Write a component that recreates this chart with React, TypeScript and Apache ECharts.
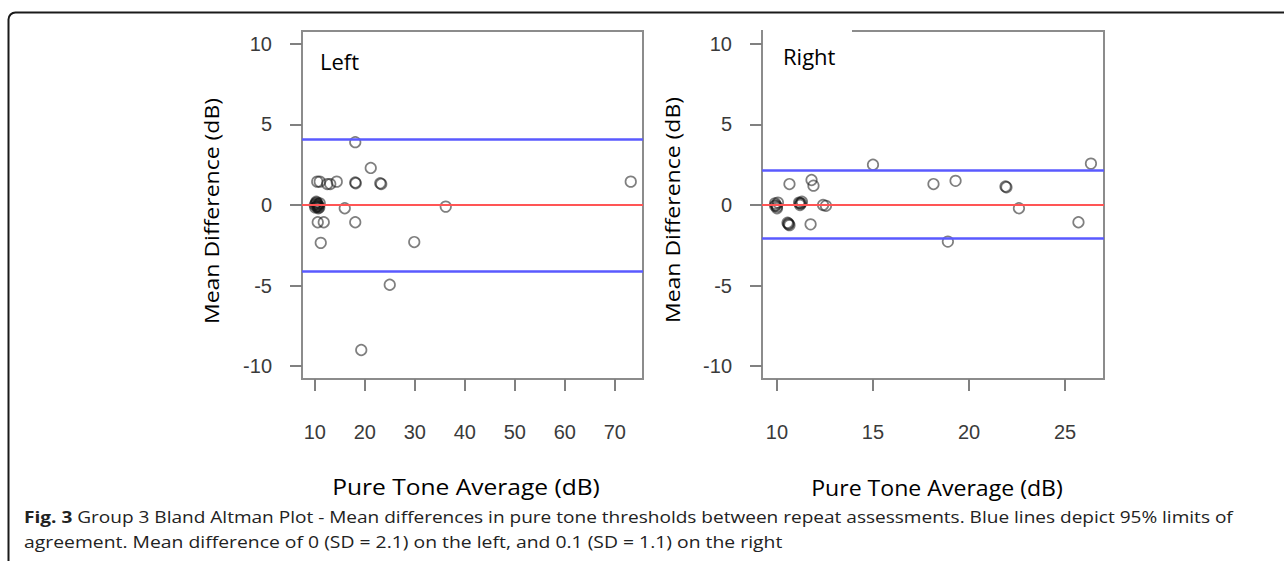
import React, { useEffect, useRef } from "react";
import * as echarts from "echarts";

// Left ear: pure tone average (x) vs mean difference (y)
const leftX = [18.1, 21.2, 10.5, 11.0, 12.5, 13.1, 14.4, 18.1, 18.2, 23.1, 23.3,
  10.0, 10.2, 10.4, 10.6, 10.8, 11.0, 10.3, 10.7, 10.1, 10.5, 10.9, 10.4, 10.6,
  16.0, 36.2, 10.6, 11.8, 18.1, 11.2, 29.9, 25.0, 19.3, 73.2];
const leftY = [3.9, 2.3, 1.45, 1.45, 1.3, 1.3, 1.45, 1.4, 1.35, 1.35, 1.3,
  0.0, 0.1, -0.1, 0.05, -0.05, 0.1, 0.2, -0.2, -0.15, 0.0, -0.15, 0.15, -0.1,
  -0.2, -0.1, -1.07, -1.07, -1.07, -2.35, -2.3, -4.95, -9.0, 1.45];

// Right ear
const rightX = [15.0, 26.35, 10.65, 11.8, 11.9, 18.15, 19.3, 21.9, 21.95,
  9.9, 10.0, 9.95, 10.05, 10.0, 9.9,
  11.15, 11.25, 11.3, 11.2, 11.2,
  12.4, 12.55, 22.6,
  10.6, 10.65, 10.55, 10.6, 11.75, 25.7, 18.9];
const rightY = [2.5, 2.57, 1.3, 1.55, 1.2, 1.3, 1.5, 1.15, 1.1,
  0.1, -0.1, 0.0, 0.15, -0.2, -0.05,
  0.15, 0.1, 0.2, 0.0, 0.1,
  0.0, -0.05, -0.2,
  -1.15, -1.25, -1.1, -1.2, -1.2, -1.07, -2.27];

// Mean line and 95% limits of agreement
const leftMean = 0;
const leftLimits = [4.1, -4.1];
const rightMean = 0;
const rightLimits = [2.15, -2.05];

const leftXTicks = [10, 20, 30, 40, 50, 60, 70];
const rightXTicks = [10, 15, 20, 25];
const yTicks = [-10, -5, 0, 5, 10];

const xTitle = "Pure Tone Average (dB)";
const yTitle = "Mean Difference (dB)";
const captionBold = "Fig. 3";
const captionLine1 = " Group 3 Bland Altman Plot - Mean differences in pure tone thresholds between repeat assessments. Blue lines depict 95% limits of";
const captionLine2 = "agreement. Mean difference of 0 (SD = 2.1) on the left, and 0.1 (SD = 1.1) on the right";

const TICK_FONT = "'Liberation Sans', Arial, sans-serif";
const TITLE_FONT = "'Open Sans', sans-serif";

function pairs(xs: number[], ys: number[]) {
  return xs.map((x, i) => [x, ys[i]]);
}

export default function App() {
  const ref = useRef<HTMLDivElement>(null);
  useEffect(() => {
    if (!ref.current) return;
    const chart = echarts.init(ref.current, undefined, { renderer: "svg" });

    const gridBase = {
      show: true,
      borderColor: "#8c8c8c",
      borderWidth: 2,
      backgroundColor: "transparent",
      containLabel: false,
    };
    const tickStyle = { show: true, length: 12, lineStyle: { color: "#808080", width: 2 } };
    const xAxisBase = (grid: number, min: number, max: number, ticks: number[]) => ({
      type: "value",
      gridIndex: grid,
      min,
      max,
      axisLine: { show: false, onZero: false },
      splitLine: { show: false },
      axisTick: { ...tickStyle, customValues: ticks },
      axisLabel: {
        customValues: ticks,
        margin: 43,
        fontFamily: TICK_FONT,
        fontSize: 20,
        color: "#3a3a3a",
      },
    });
    const yAxisBase = (grid: number) => ({
      type: "value",
      gridIndex: grid,
      min: -10.8,
      max: 10.8,
      axisLine: { show: false, onZero: false },
      splitLine: { show: false },
      axisTick: { ...tickStyle, customValues: yTicks },
      axisLabel: {
        customValues: yTicks,
        margin: 30,
        fontFamily: TICK_FONT,
        fontSize: 20,
        color: "#3a3a3a",
      },
    });

    const markLines = (mean: number, limits: number[]) => ({
      silent: true,
      symbol: "none",
      label: { show: false },
      data: [
        ...limits.map((v) => ({ yAxis: v, lineStyle: { color: "#5a5aff", width: 2.5, type: "solid" } })),
        { yAxis: mean, lineStyle: { color: "#ff5555", width: 2, type: "solid" } },
      ],
    });

    const scatterStyle = {
      color: "rgba(0,0,0,0)",
      borderColor: "rgba(20,20,20,0.68)",
      borderWidth: 1.7,
    };

    const captionFont = `16px ${TITLE_FONT}`;

    chart.setOption({
      animation: false,
      backgroundColor: "#ffffff",
      grid: [
        { ...gridBase, left: 302, top: 31, width: 341, height: 348 },
        { ...gridBase, left: 762, top: 31, width: 342, height: 348 },
      ],
      xAxis: [
        xAxisBase(0, 7.45, 75.65, leftXTicks),
        xAxisBase(1, 9.22, 27.03, rightXTicks),
      ],
      yAxis: [yAxisBase(0), yAxisBase(1)],
      series: [
        {
          type: "scatter",
          xAxisIndex: 0,
          yAxisIndex: 0,
          symbol: "circle",
          symbolSize: 10.5,
          itemStyle: scatterStyle,
          data: pairs(leftX, leftY),
          markLine: markLines(leftMean, leftLimits),
          z: 3,
        },
        {
          type: "scatter",
          xAxisIndex: 1,
          yAxisIndex: 1,
          symbol: "circle",
          symbolSize: 10.5,
          itemStyle: scatterStyle,
          data: pairs(rightX, rightY),
          markLine: markLines(rightMean, rightLimits),
          z: 3,
        },
      ],
      graphic: [
        {
          type: "rect",
          shape: { x: 8.5, y: 12.5, width: 1300, height: 600, r: 7 },
          style: { fill: "none", stroke: "#1a1a1a", lineWidth: 2 },
          silent: true,
          z: 0,
        },
        {
          type: "rect",
          shape: { x: 763, y: 29, width: 89, height: 4 },
          style: { fill: "#ffffff" },
          silent: true,
          z: 10,
        },
        {
          type: "text",
          x: 320,
          y: 61,
          style: { text: "Left", font: `22px ${TITLE_FONT}`, fill: "#000", verticalAlign: "middle" },
          z: 11,
        },
        {
          type: "text",
          x: 783,
          y: 56,
          style: { text: "Right", font: `22px ${TITLE_FONT}`, fill: "#000", verticalAlign: "middle" },
          z: 11,
        },
        {
          type: "text",
          x: 211,
          y: 211,
          rotation: Math.PI / 2,
          scaleX: 1.15,
          style: { text: yTitle, font: `20px ${TITLE_FONT}`, fill: "#000", align: "center", verticalAlign: "middle" },
        },
        {
          type: "text",
          x: 672,
          y: 210,
          rotation: Math.PI / 2,
          scaleX: 1.15,
          style: { text: yTitle, font: `20px ${TITLE_FONT}`, fill: "#000", align: "center", verticalAlign: "middle" },
        },
        {
          type: "text",
          x: 466,
          y: 487,
          scaleX: 1.17,
          style: { text: xTitle, font: `21px ${TITLE_FONT}`, fill: "#000", align: "center", verticalAlign: "middle" },
        },
        {
          type: "text",
          x: 937,
          y: 487,
          scaleX: 1.1,
          style: { text: xTitle, font: `21px ${TITLE_FONT}`, fill: "#000", align: "center", verticalAlign: "middle" },
        },
        {
          type: "text",
          x: 24,
          y: 517,
          scaleX: 1.19,
          style: {
            text: `{b|${captionBold}}${captionLine1}`,
            font: captionFont,
            fill: "#222",
            verticalAlign: "middle",
            rich: { b: { fontWeight: "bold", fontSize: 16, fontFamily: TITLE_FONT, fill: "#222" } },
          },
        },
        {
          type: "text",
          x: 24,
          y: 542,
          scaleX: 1.21,
          style: { text: captionLine2, font: captionFont, fill: "#222", verticalAlign: "middle" },
        },
      ],
    });
    return () => chart.dispose();
  }, []);
  return (
    <div
      ref={ref}
      style={{ position: "absolute", left: 0, top: 0, width: 1284, height: 561 }}
    />
  );
}
